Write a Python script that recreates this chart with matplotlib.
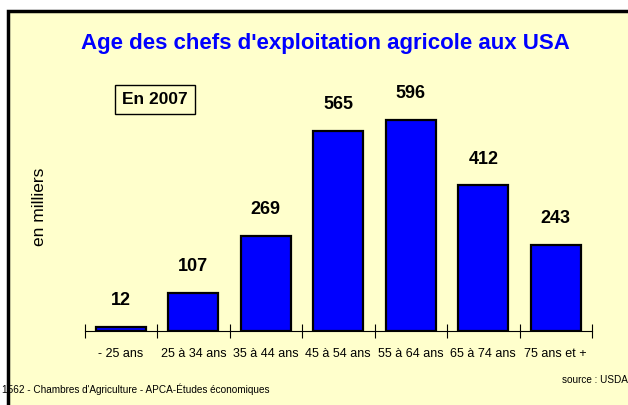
import matplotlib.pyplot as plt
import matplotlib.patches as mpatches
import numpy as np

categories = ["- 25 ans", "25 à 34 ans", "35 à 44 ans", "45 à 54 ans",
              "55 à 64 ans", "65 à 74 ans", "75 ans et +"]
values = [12, 107, 269, 565, 596, 412, 243]

plt.rcParams['font.family'] = ["Liberation Sans", "DejaVu Sans"]

fig = plt.figure(figsize=(6.28, 4.05), dpi=100)
fig.patch.set_facecolor("white")

# yellow panel with thick black border, running off the right/bottom edges
panel = mpatches.Rectangle((8 / 628, -0.05), 1.0, (405 - 11) / 405 + 0.05,
                           transform=fig.transFigure, facecolor="#FFFFCC",
                           edgecolor="black", linewidth=2.5, zorder=-10)
fig.add_artist(panel)

ax = fig.add_axes([84.6 / 628, (405 - 331) / 405, 507.4 / 628, 241 / 405])
ax.set_facecolor("none")
x = np.arange(len(categories))
ax.bar(x, values, width=0.69, color="#0000FF", edgecolor="black", linewidth=1.6, zorder=3)

for xi, v in zip(x, values):
    ax.text(xi, v + 50, str(v), ha="center", va="bottom", fontsize=13, fontweight="bold")

ax.set_xlim(-0.5, len(categories) - 0.5)
ax.set_ylim(0, 681)
for s in ["top", "right", "left"]:
    ax.spines[s].set_visible(False)
ax.spines["bottom"].set_linewidth(0.8)
ax.set_yticks([])
ax.set_xticks(np.arange(-0.5, len(categories), 1.0))
ax.set_xticklabels([])
ax.tick_params(axis="x", which="major", direction="inout", length=10, width=0.8)
ax.set_xticks(x, minor=True)
ax.set_xticklabels(categories, minor=True, fontsize=9)
ax.tick_params(axis="x", which="minor", length=0, pad=12)

fig.text(325 / 628, 1 - 43 / 405, "Age des chefs d'exploitation agricole aux USA",
         ha="center", va="center", fontsize=16, fontweight="bold", color="#0000FF")
fig.text(155 / 628, 1 - 99.5 / 405, "En 2007", ha="center", va="center", fontsize=12.5,
         fontweight="bold",
         bbox=dict(boxstyle="square,pad=0.42", facecolor="none", edgecolor="black", linewidth=1))
fig.text(40 / 628, 1 - 207 / 405, "en milliers", rotation=90, ha="center", va="center",
         fontsize=12.5)
fig.text(2 / 628, 1 - 389 / 405, "1562 - Chambres d'Agriculture - APCA-Études économiques",
         ha="left", va="center", fontsize=7.2)
fig.text(1.0, 1 - 380 / 405, "source : USDA", ha="right", va="center", fontsize=7.2)

fig.savefig("out.png", dpi=100)
